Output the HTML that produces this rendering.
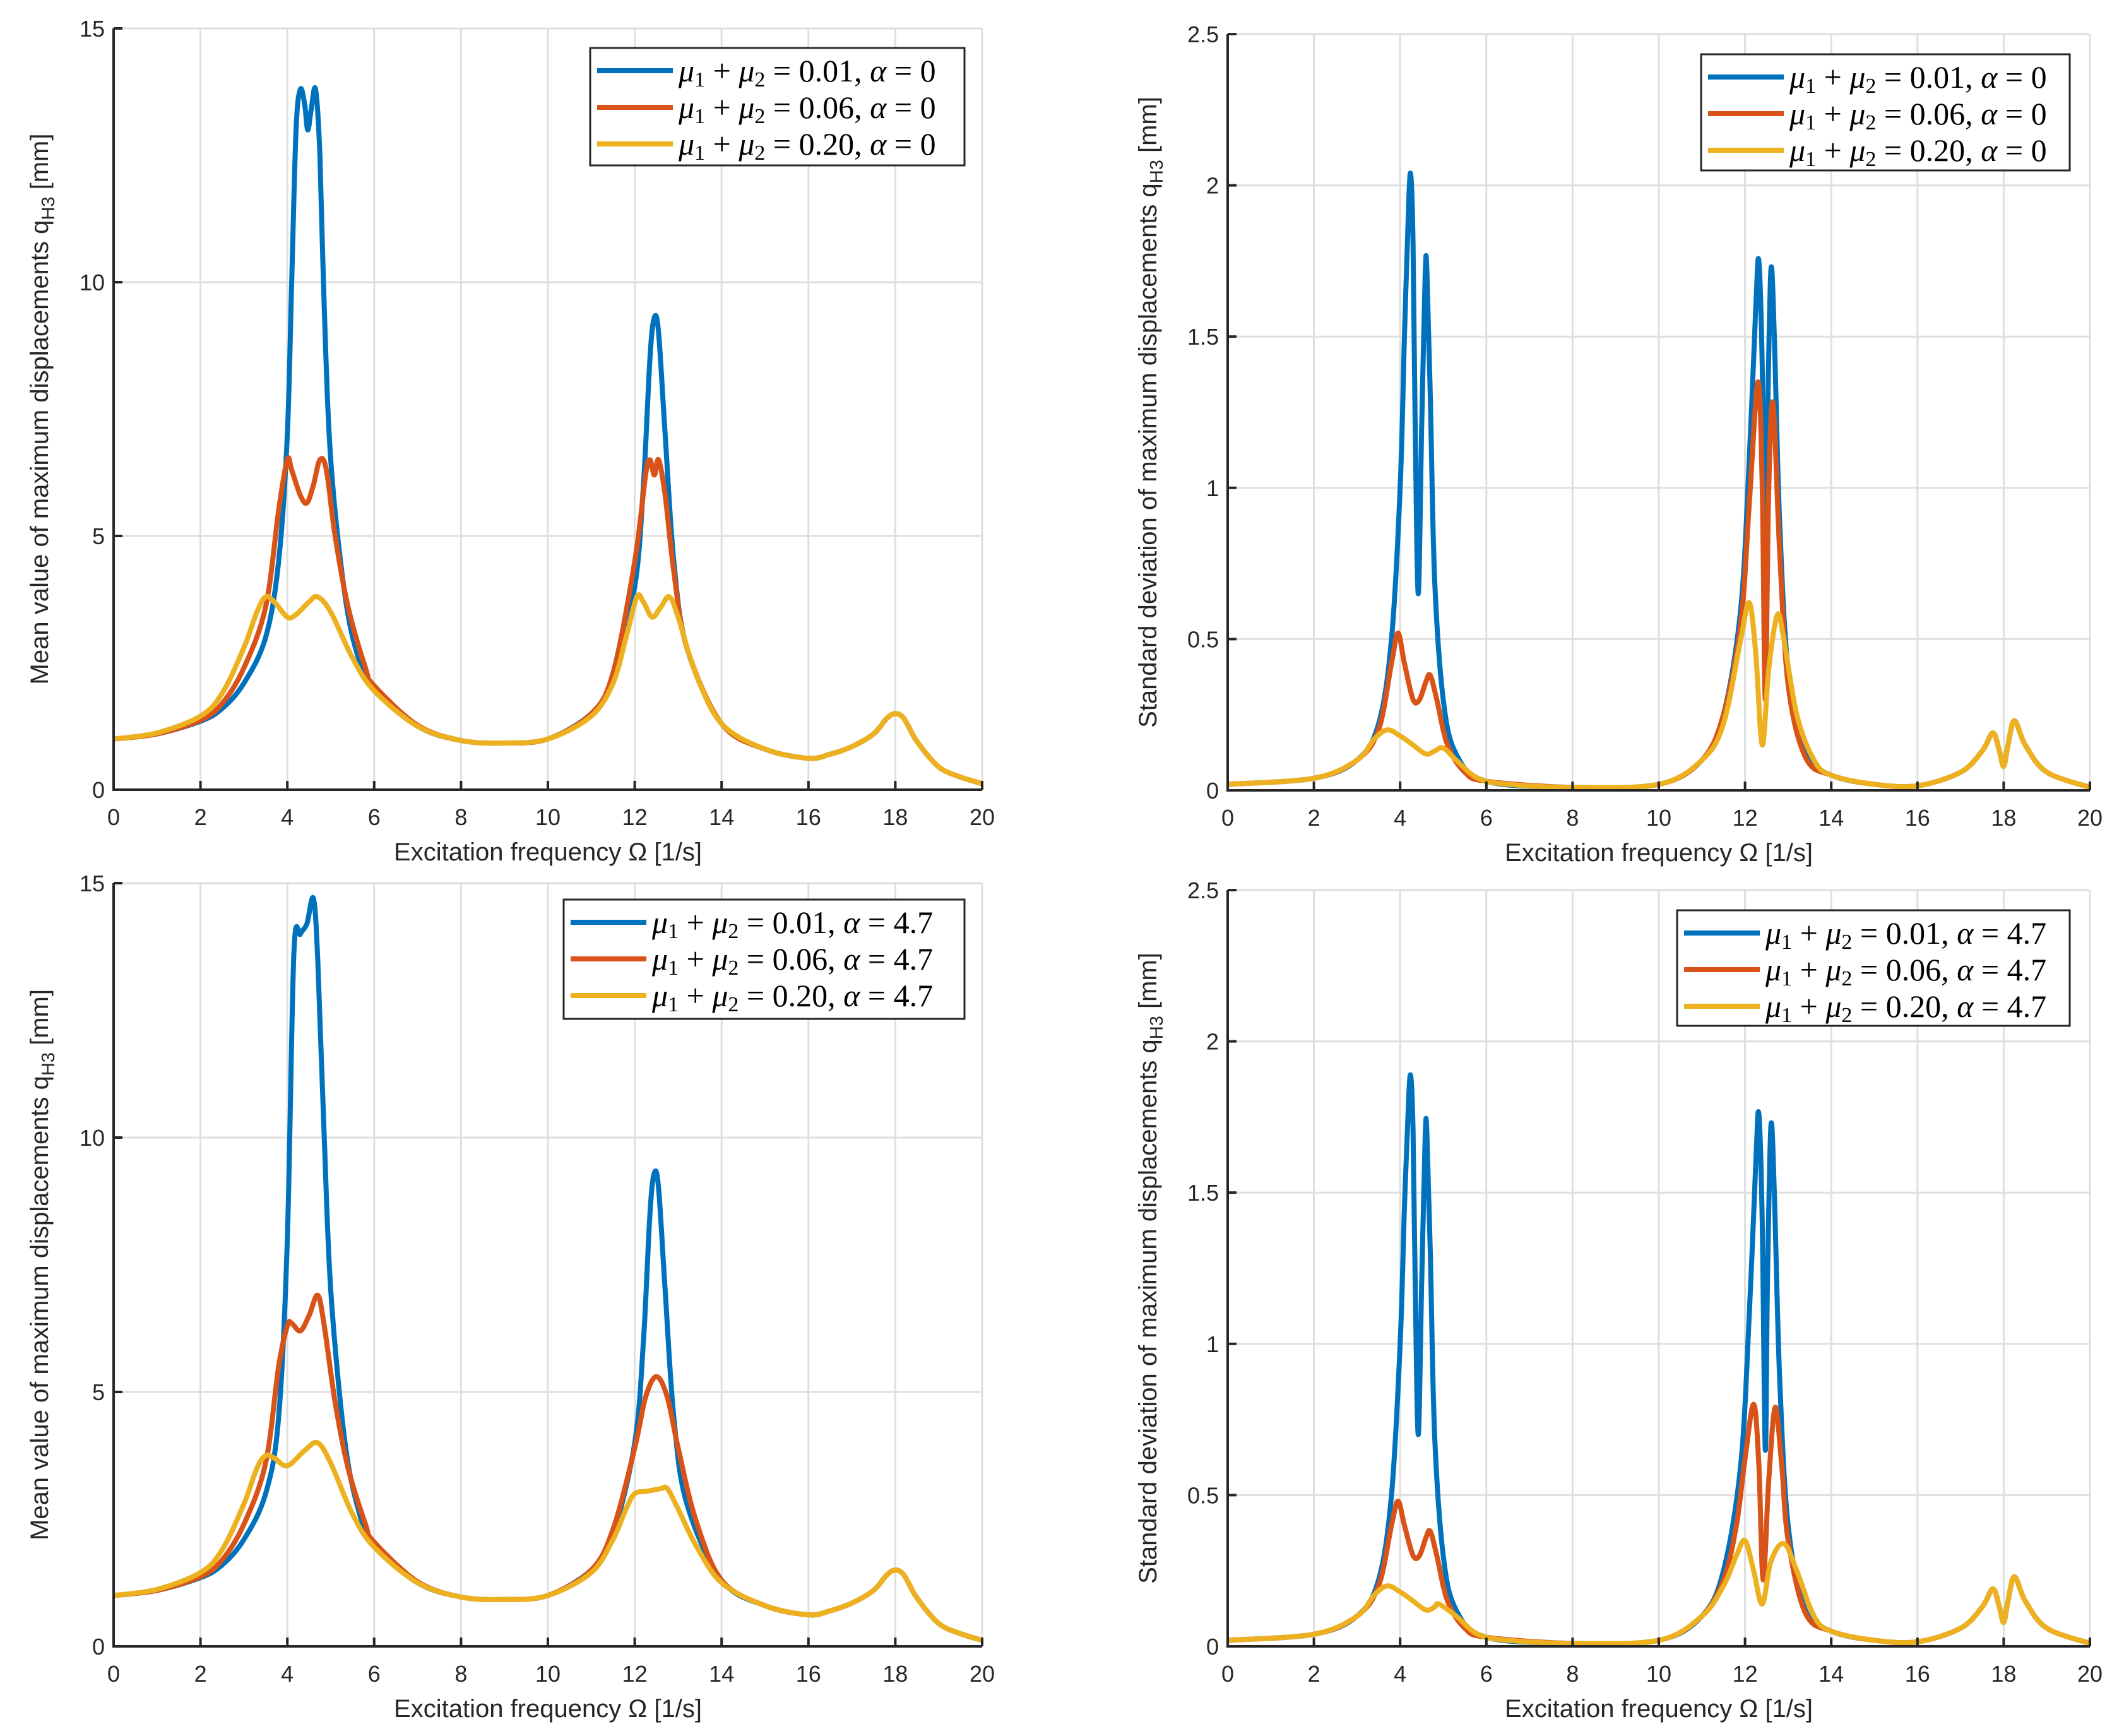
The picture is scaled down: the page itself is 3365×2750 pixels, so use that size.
<!DOCTYPE html>
<html><head><meta charset="utf-8"><style>
body{margin:0;background:#fff;}
svg{display:block;}
text{font-family:"Liberation Sans",sans-serif;fill:#262626;}
.tick{font-size:36px;}
.lbl{font-size:40px;}
.leg{font-family:"Liberation Serif",serif;font-size:50px;fill:#000;}
</style></head><body>
<svg id="fig" width="3365" height="2750" viewBox="0 0 3365 2750" xmlns="http://www.w3.org/2000/svg"></svg>
<script>
// ---- Data (x in 1/s, y in mm) ----
// Plot A: mean, alpha=0
const aBlueX=[0,1,2,2.5,3,3.5,3.8,4.0,4.1,4.2,4.3,4.4,4.47,4.55,4.65,4.75,4.85,5.0,5.3,5.6,6,7,8,9,10,11,11.5,12,12.2,12.35,12.45,12.55,12.7,12.9,13.2,14,15,16,16.5,17,17.5,17.8,18,18.2,18.5,19,19.5,20];
const aBlueY=[1.0,1.1,1.35,1.6,2.1,3.0,4.5,7,10,13,13.8,13.5,13.0,13.4,13.8,12.5,9.5,6.5,4.0,2.7,2.0,1.25,0.97,0.92,1.0,1.5,2.2,4,6,8.5,9.3,9.0,7,4.5,2.8,1.3,0.8,0.62,0.7,0.85,1.1,1.4,1.5,1.4,0.95,0.45,0.25,0.12];
const aRedX=[0,1,2,2.5,3,3.5,3.8,4.0,4.1,4.3,4.45,4.6,4.75,4.9,5.1,5.4,5.8,6,7,8,9,10,11,11.5,12,12.25,12.35,12.45,12.55,12.7,12.9,13.2,14,15,16,16.5,17,17.5,17.8,18,18.2,18.5,19,19.5,20];
const aRedY=[1.0,1.1,1.37,1.7,2.4,3.6,5.5,6.5,6.3,5.8,5.65,6.0,6.5,6.3,5.0,3.6,2.4,2.05,1.27,0.97,0.92,1.0,1.5,2.3,4.5,6.2,6.5,6.2,6.5,5.8,4.3,2.8,1.3,0.8,0.62,0.7,0.85,1.1,1.4,1.5,1.4,0.95,0.45,0.25,0.12];
const aYelX=[0,1,2,2.5,3,3.3,3.5,3.7,4.0,4.2,4.5,4.7,5.0,5.5,6,7,8,9,10,11,11.5,11.8,12.05,12.2,12.4,12.6,12.8,13.0,13.4,14,15,16,16.5,17,17.5,17.8,18,18.2,18.5,19,19.5,20];
const aYelY=[1.0,1.12,1.45,1.9,2.8,3.5,3.8,3.7,3.4,3.45,3.7,3.8,3.5,2.6,1.95,1.25,0.97,0.92,1.0,1.45,2.1,3.0,3.8,3.7,3.4,3.6,3.8,3.4,2.3,1.3,0.8,0.62,0.7,0.85,1.1,1.4,1.5,1.4,0.95,0.45,0.25,0.12];
// Plot B: std, alpha=0
const bBlueX=[0,2,3,3.5,3.8,4.0,4.1,4.2,4.25,4.3,4.35,4.42,4.5,4.58,4.62,4.7,4.8,5.0,5.3,6,8,10,11,11.5,11.9,12.1,12.25,12.32,12.4,12.47,12.52,12.6,12.68,12.8,13.0,13.4,14,15,16,17,17.5,17.75,17.9,18,18.1,18.25,18.5,19,20];
const bBlueY=[0.02,0.04,0.1,0.22,0.5,1.0,1.5,1.95,2.03,1.8,1.2,0.65,1.2,1.7,1.72,1.3,0.7,0.3,0.12,0.03,0.01,0.02,0.1,0.25,0.6,1.1,1.6,1.75,1.4,0.7,1.2,1.72,1.5,0.9,0.4,0.12,0.05,0.02,0.015,0.06,0.13,0.19,0.13,0.08,0.15,0.23,0.15,0.06,0.01];
const bRedX=[0,2,3,3.5,3.8,3.95,4.1,4.3,4.45,4.6,4.7,4.85,5.1,5.5,6,8,10,11,11.5,11.9,12.1,12.3,12.4,12.47,12.55,12.65,12.8,13.0,13.4,14,15,16,17,17.5,17.75,17.9,18,18.1,18.25,18.5,19,20];
const bRedY=[0.02,0.04,0.1,0.2,0.42,0.52,0.42,0.3,0.3,0.36,0.38,0.3,0.15,0.06,0.03,0.01,0.02,0.1,0.25,0.55,0.95,1.35,1.0,0.3,1.0,1.28,0.8,0.35,0.11,0.05,0.02,0.015,0.06,0.13,0.19,0.13,0.08,0.15,0.23,0.15,0.06,0.01];
const bYelX=[0,2,3,3.4,3.7,4.0,4.3,4.6,4.8,5.0,5.3,5.8,6.5,8,10,11,11.5,11.9,12.1,12.25,12.4,12.55,12.75,12.9,13.2,13.6,14,15,16,17,17.5,17.75,17.9,18,18.1,18.25,18.5,19,20];
const bYelY=[0.02,0.04,0.1,0.17,0.2,0.18,0.15,0.12,0.13,0.14,0.1,0.04,0.02,0.01,0.02,0.1,0.22,0.5,0.62,0.45,0.15,0.4,0.58,0.5,0.25,0.1,0.05,0.02,0.015,0.06,0.13,0.19,0.13,0.08,0.15,0.23,0.15,0.06,0.01];
// Plot C: mean, alpha=4.7
const cBlueX=[0,1,2,2.5,3,3.5,3.8,4.0,4.15,4.3,4.45,4.6,4.7,4.85,5.0,5.3,5.6,6,7,8,9,10,11,11.5,12,12.2,12.35,12.45,12.55,12.7,12.9,13.2,14,15,16,16.5,17,17.5,17.8,18,18.2,18.5,19,19.5,20];
const cBlueY=[1.0,1.1,1.35,1.6,2.1,3.0,4.5,8,13.6,14.0,14.2,14.7,13.5,10,7,4.2,2.8,2.0,1.25,0.97,0.92,1.0,1.5,2.2,4,6,8.5,9.3,9.0,7,4.5,2.8,1.3,0.8,0.62,0.7,0.85,1.1,1.4,1.5,1.4,0.95,0.45,0.25,0.12];
const cRedX=[0,1,2,2.5,3,3.5,3.8,4.0,4.1,4.3,4.5,4.7,4.85,5.1,5.4,5.8,6,7,8,9,10,11,11.5,12,12.25,12.5,12.75,13.0,13.4,14,15,16,16.5,17,17.5,17.8,18,18.2,18.5,19,19.5,20];
const cRedY=[1.0,1.1,1.37,1.7,2.4,3.6,5.5,6.3,6.35,6.2,6.5,6.9,6.3,4.8,3.5,2.4,2.05,1.27,0.97,0.92,1.0,1.5,2.3,3.9,4.9,5.3,4.9,3.9,2.5,1.3,0.8,0.62,0.7,0.85,1.1,1.4,1.5,1.4,0.95,0.45,0.25,0.12];
const cYelX=[0,1,2,2.5,3,3.3,3.5,3.7,4.0,4.4,4.7,5.0,5.5,6,7,8,9,10,11,11.5,11.8,12,12.3,12.6,12.75,13.0,13.4,14,15,16,16.5,17,17.5,17.8,18,18.2,18.5,19,19.5,20];
const cYelY=[1.0,1.12,1.45,1.9,2.8,3.5,3.75,3.7,3.55,3.85,4.0,3.6,2.6,1.95,1.25,0.97,0.92,1.0,1.45,2.1,2.7,3.0,3.05,3.1,3.1,2.7,2.0,1.25,0.8,0.62,0.7,0.85,1.1,1.4,1.5,1.4,0.95,0.45,0.25,0.12];
// Plot D: std, alpha=4.7
const dBlueX=[0,2,3,3.5,3.8,4.0,4.1,4.2,4.25,4.3,4.35,4.42,4.5,4.58,4.62,4.7,4.8,5.0,5.3,6,8,10,11,11.5,11.9,12.1,12.25,12.32,12.4,12.47,12.52,12.6,12.68,12.8,13.0,13.4,14,15,16,17,17.5,17.75,17.9,18,18.1,18.25,18.5,19,20];
const dBlueY=[0.02,0.04,0.1,0.22,0.5,1.0,1.45,1.82,1.88,1.7,1.2,0.7,1.2,1.68,1.7,1.3,0.7,0.3,0.12,0.03,0.01,0.02,0.1,0.25,0.6,1.1,1.6,1.76,1.4,0.65,1.2,1.72,1.5,0.9,0.4,0.12,0.05,0.02,0.015,0.06,0.13,0.19,0.13,0.08,0.15,0.23,0.15,0.06,0.01];
const dRedX=[0,2,3,3.5,3.8,3.95,4.1,4.3,4.45,4.6,4.7,4.85,5.1,5.5,6,8,10,11,11.5,11.8,12.0,12.2,12.32,12.42,12.55,12.7,12.85,13.0,13.4,14,15,16,17,17.5,17.75,17.9,18,18.1,18.25,18.5,19,20];
const dRedY=[0.02,0.04,0.1,0.2,0.4,0.48,0.4,0.3,0.3,0.36,0.38,0.3,0.15,0.06,0.03,0.01,0.02,0.1,0.22,0.4,0.62,0.8,0.6,0.22,0.55,0.79,0.6,0.35,0.11,0.05,0.02,0.015,0.06,0.13,0.19,0.13,0.08,0.15,0.23,0.15,0.06,0.01];
const dYelX=[0,2,3,3.4,3.7,4.0,4.3,4.6,4.8,4.9,5.3,5.8,6.5,8,10,11,11.5,11.8,12.0,12.2,12.4,12.6,12.9,13.2,13.6,14,15,16,17,17.5,17.75,17.9,18,18.1,18.25,18.5,19,20];
const dYelY=[0.02,0.04,0.1,0.17,0.2,0.18,0.15,0.12,0.13,0.14,0.1,0.04,0.02,0.01,0.02,0.1,0.2,0.3,0.35,0.25,0.14,0.28,0.34,0.25,0.1,0.05,0.02,0.015,0.06,0.13,0.19,0.13,0.08,0.15,0.23,0.15,0.06,0.01];
const xTicks=[0,2,4,6,8,10,12,14,16,18,20];
const meanTicks=[0,5,10,15];
const stdTicks=[0,0.5,1,1.5,2,2.5];
const stdTickLabels=["0","0.5","1","1.5","2","2.5"];

const NS="http://www.w3.org/2000/svg";
const svg=document.getElementById('fig');
const COLORS=["#0072BD","#D95319","#EDB120"];
function el(tag,attrs,parent){const e=document.createElementNS(NS,tag);for(const k in attrs)e.setAttribute(k,attrs[k]);(parent||svg).appendChild(e);return e;}
function smoothPath(pts){let d=`M${pts[0][0].toFixed(1)},${pts[0][1].toFixed(1)}`;
 for(let i=0;i<pts.length-1;i++){const p0=pts[i-1]||pts[i],p1=pts[i],p2=pts[i+1],p3=pts[i+2]||p2;
  const c1=[p1[0]+(p2[0]-p0[0])/6,p1[1]+(p2[1]-p0[1])/6],c2=[p2[0]-(p3[0]-p1[0])/6,p2[1]-(p3[1]-p1[1])/6];
  d+=`C${c1[0].toFixed(1)},${c1[1].toFixed(1)} ${c2[0].toFixed(1)},${c2[1].toFixed(1)} ${p2[0].toFixed(1)},${p2[1].toFixed(1)}`;}
 return d;}
function panel(o){
 const g=el('g',{});
 
 
 const X=v=>o.x0+(v-0)/(20-0)*(o.x1-o.x0);
 const Y=v=>o.y1-(v-0)/(o.ymax)*(o.y1-o.y0);
 xTicks.forEach(t=>{const l=el('line',{x1:X(t),x2:X(t),y1:o.y0,y2:o.y1,stroke:'#dfdfdf','stroke-width':3},g);
  });
 o.ticks.forEach(t=>{const l=el('line',{x1:o.x0,x2:o.x1,y1:Y(t),y2:Y(t),stroke:'#dfdfdf','stroke-width':3},g);
  });
 o.series.forEach((s,i)=>{const pts=s[0].map((x,j)=>[X(x),Y(s[1][j])]);
  const p=el('path',{d:smoothPath(pts),fill:'none',stroke:COLORS[i],'stroke-width':8,'stroke-linejoin':'round','stroke-linecap':'butt'},g);
  });
 const ax=el('path',{d:`M${o.x0},${o.y0}V${o.y1}H${o.x1}`,fill:'none',stroke:'#262626','stroke-width':4},g);
 
 xTicks.forEach(t=>{el('line',{x1:X(t),x2:X(t),y1:o.y1,y2:o.y1-14,stroke:'#262626','stroke-width':4},g);
  const tx=el('text',{x:X(t),y:o.y1+56,'text-anchor':'middle',class:'tick'},g);tx.textContent=t;
  });
 o.ticks.forEach((t,i)=>{el('line',{x1:o.x0,x2:o.x0+14,y1:Y(t),y2:Y(t),stroke:'#262626','stroke-width':4},g);
  const tx=el('text',{x:o.x0-14,y:Y(t)+13,'text-anchor':'end',class:'tick'},g);tx.textContent=o.labels[i];
  });
 const xl=el('text',{x:(o.x0+o.x1)/2,y:o.y1+112,'text-anchor':'middle',class:'lbl'},g);
 xl.textContent='Excitation frequency Ω [1/s]';
 
 const cy=(o.y0+o.y1)/2;
 const yl=el('text',{x:o.ylx,y:cy,'text-anchor':'middle',class:'lbl',transform:`rotate(-90 ${o.ylx} ${cy})`},g);
 yl.innerHTML=o.ytitle+' q<tspan font-size="29" dy="10">H3</tspan><tspan dy="-10"> [mm]</tspan>';
 
 const L=o.leg;
 const lg=el('g',{},g);
 
 el('rect',{x:L[0],y:L[1],width:L[2]-L[0],height:L[3]-L[1],fill:'#fff',stroke:'#262626','stroke-width':3},lg);
 const mus=['0.01','0.06','0.20'];
 mus.forEach((m,i)=>{const ry=L[1]+36+i*58;
  const e=el('g',{},lg);
  el('line',{x1:L[0]+11,x2:L[0]+131,y1:ry,y2:ry,stroke:COLORS[i],'stroke-width':8},e);
  const t=el('text',{x:L[0]+140,y:ry+17,class:'leg'},e);
  t.innerHTML=`<tspan font-style="italic">μ</tspan><tspan font-size="34" dy="8">1</tspan><tspan dy="-8"> + </tspan><tspan font-style="italic">μ</tspan><tspan font-size="34" dy="8">2</tspan><tspan dy="-8"> = ${m}, </tspan><tspan font-style="italic">α</tspan> = ${o.alpha}`;
 });
}
const meanTitle='Mean value of maximum displacements', stdTitle='Standard deviation of maximum displacements';
panel({name:'panel-mean-alpha-0',x0:180,x1:1556,y0:45,y1:1251,ymax:15,ticks:meanTicks,labels:meanTicks.map(String),ylx:76,ytitle:meanTitle,alpha:'0',leg:[935,76,1528,262],
 series:[[aBlueX,aBlueY],[aRedX,aRedY],[aYelX,aYelY]]});
panel({name:'panel-std-alpha-0',x0:1945,x1:3311,y0:54,y1:1252,ymax:2.5,ticks:stdTicks,labels:stdTickLabels,ylx:1832,ytitle:stdTitle,alpha:'0',leg:[2695,86,3279,270],
 series:[[bBlueX,bBlueY],[bRedX,bRedY],[bYelX,bYelY]]});
panel({name:'panel-mean-alpha-4.7',x0:180,x1:1556,y0:1399,y1:2608,ymax:15,ticks:meanTicks,labels:meanTicks.map(String),ylx:76,ytitle:meanTitle,alpha:'4.7',leg:[893,1425,1528,1614],
 series:[[cBlueX,cBlueY],[cRedX,cRedY],[cYelX,cYelY]]});
panel({name:'panel-std-alpha-4.7',x0:1945,x1:3311,y0:1410,y1:2608,ymax:2.5,ticks:stdTicks,labels:stdTickLabels,ylx:1832,ytitle:stdTitle,alpha:'4.7',leg:[2657,1442,3279,1625],
 series:[[dBlueX,dBlueY],[dRedX,dRedY],[dYelX,dYelY]]});
</script>
</body></html>
